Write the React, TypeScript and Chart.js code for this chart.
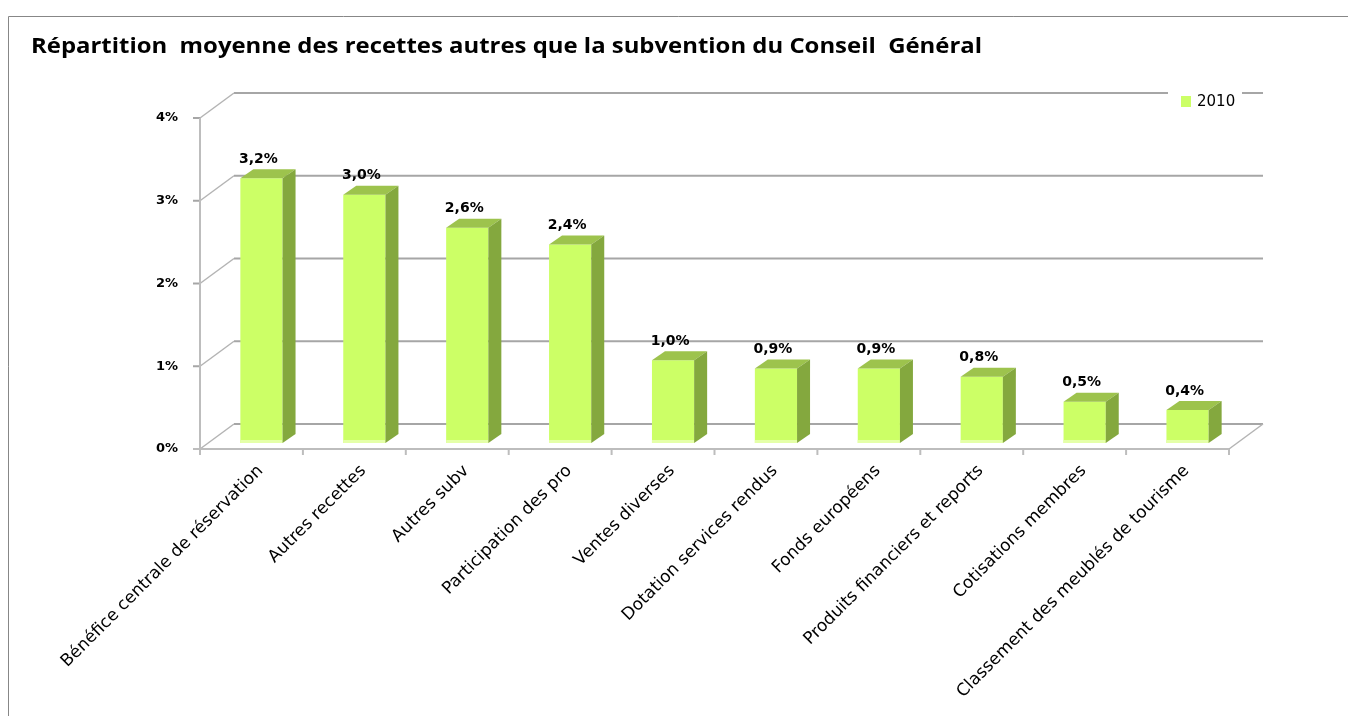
import { useEffect, useRef } from 'react';
import { Chart, registerables } from 'chart.js';

Chart.register(...registerables);

const chartTitle = 'Répartition  moyenne des recettes autres que la subvention du Conseil  Général';
const seriesLabel = '2010';
const categories = [
  'Bénéfice centrale de réservation',
  'Autres recettes',
  'Autres subv',
  'Participation des pro',
  'Ventes diverses',
  'Dotation services rendus',
  'Fonds européens',
  'Produits financiers et reports',
  'Cotisations membres',
  'Classement des meublés de tourisme',
];
const values2010 = [3.2, 3.0, 2.6, 2.4, 1.0, 0.9, 0.9, 0.8, 0.5, 0.4];
const yTickValues = [0, 1, 2, 3, 4];

const FRONT_FACE = '#CCFF66';
const TOP_FACE = '#9DC34D';
const SIDE_FACE = '#84A83E';

// perspective offsets relative to the bar plane
const FRONT = { dx: -10, dy: 6 };
const BACK = { dx: 24, dy: -19 };
const DEPTH = { dx: 13, dy: -9 };

const fmt = (v: number) => v.toFixed(1).replace('.', ',') + '%';

const threeD = {
  id: 'threeD',
  beforeDraw(chart: any) {
    const ctx = chart.ctx;
    ctx.save();
    ctx.fillStyle = '#ffffff';
    ctx.fillRect(0, 0, chart.width, chart.height);
    ctx.strokeStyle = '#878787';
    ctx.lineWidth = 1;
    ctx.beginPath();
    ctx.moveTo(8.5, chart.height);
    ctx.lineTo(8.5, 16.5);
    ctx.lineTo(chart.width, 16.5);
    ctx.stroke();
    ctx.fillStyle = '#000000';
    ctx.font = 'bold 21px "Open Sans"';
    ctx.textBaseline = 'alphabetic';
    ctx.textAlign = 'left';
    const w = ctx.measureText(chartTitle).width;
    ctx.translate(31, 53);
    ctx.scale(951 / w, 1);
    ctx.fillText(chartTitle, 0, 0);
    ctx.restore();
  },
  beforeDatasetsDraw(chart: any) {
    const { ctx, chartArea } = chart;
    const y = chart.scales.y;
    const L = chartArea.left;
    const R = chartArea.right;
    const y0 = y.getPixelForValue(0);
    const yMax = y.getPixelForValue(yTickValues[yTickValues.length - 1]);
    ctx.save();
    ctx.lineCap = 'butt';
    yTickValues.forEach((v) => {
      const p = y.getPixelForValue(v);
      ctx.strokeStyle = '#a6a6a6';
      ctx.lineWidth = 2;
      ctx.beginPath();
      ctx.moveTo(L + BACK.dx, p + BACK.dy);
      ctx.lineTo(R + BACK.dx, p + BACK.dy);
      ctx.stroke();
      ctx.strokeStyle = '#b4b4b4';
      ctx.lineWidth = 1.5;
      ctx.beginPath();
      ctx.moveTo(L + FRONT.dx, p + FRONT.dy);
      ctx.lineTo(L + BACK.dx, p + BACK.dy);
      ctx.stroke();
      ctx.strokeStyle = '#a6a6a6';
      ctx.lineWidth = 2;
      ctx.beginPath();
      ctx.moveTo(L + FRONT.dx - 7, p + FRONT.dy);
      ctx.lineTo(L + FRONT.dx, p + FRONT.dy);
      ctx.stroke();
    });
    ctx.strokeStyle = '#b4b4b4';
    ctx.lineWidth = 1.5;
    ctx.beginPath();
    ctx.moveTo(R + FRONT.dx, y0 + FRONT.dy);
    ctx.lineTo(R + BACK.dx, y0 + BACK.dy);
    ctx.stroke();
    ctx.strokeStyle = '#bdbdbd';
    ctx.lineWidth = 2;
    ctx.beginPath();
    ctx.moveTo(L + FRONT.dx, yMax + FRONT.dy);
    ctx.lineTo(L + FRONT.dx, y0 + FRONT.dy + 6);
    ctx.stroke();
    ctx.beginPath();
    ctx.moveTo(L + FRONT.dx - 7, y0 + FRONT.dy);
    ctx.lineTo(R + FRONT.dx, y0 + FRONT.dy);
    ctx.stroke();
    const n = categories.length;
    for (let i = 0; i <= n; i++) {
      const xb = L + ((R - L) * i) / n + FRONT.dx;
      ctx.beginPath();
      ctx.moveTo(xb, y0 + FRONT.dy);
      ctx.lineTo(xb, y0 + FRONT.dy + 6);
      ctx.stroke();
    }
    ctx.fillStyle = '#ffffff';
    ctx.fillRect(R - 71, chartArea.top - 28, 74, 30);
    ctx.fillStyle = FRONT_FACE;
    ctx.fillRect(R - 58, chartArea.top - 16, 10, 11);
    ctx.fillStyle = '#000000';
    ctx.font = '15px "DejaVu Sans"';
    ctx.textAlign = 'left';
    ctx.textBaseline = 'middle';
    ctx.fillText(seriesLabel, R - 42, chartArea.top - 10);
    ctx.restore();
  },
  afterDatasetsDraw(chart: any) {
    const { ctx } = chart;
    const meta = chart.getDatasetMeta(0);
    ctx.save();
    meta.data.forEach((bar: any, i: number) => {
      const { x, y, base, width } = bar.getProps(['x', 'y', 'base', 'width'], true);
      const l = x - width / 2;
      const r = x + width / 2;
      ctx.fillStyle = '#E4FFA8';
      ctx.fillRect(l, base - 3, width, 3);
      ctx.fillStyle = TOP_FACE;
      ctx.beginPath();
      ctx.moveTo(l, y);
      ctx.lineTo(l + DEPTH.dx, y + DEPTH.dy);
      ctx.lineTo(r + DEPTH.dx, y + DEPTH.dy);
      ctx.lineTo(r, y);
      ctx.closePath();
      ctx.fill();
      ctx.fillStyle = SIDE_FACE;
      ctx.beginPath();
      ctx.moveTo(r, y);
      ctx.lineTo(r + DEPTH.dx, y + DEPTH.dy);
      ctx.lineTo(r + DEPTH.dx, base + DEPTH.dy);
      ctx.lineTo(r, base);
      ctx.closePath();
      ctx.fill();
      ctx.fillStyle = '#000000';
      ctx.font = 'bold 14px "DejaVu Sans"';
      ctx.textAlign = 'center';
      ctx.textBaseline = 'middle';
      ctx.fillText(fmt(values2010[i]), x - 3, y - 19);
    });
    ctx.restore();
  },
};

export default function App() {
  const ref = useRef<HTMLCanvasElement | null>(null);
  useEffect(() => {
    if (!ref.current) return;
    const chart = new Chart(ref.current, {
      type: 'bar',
      data: {
        labels: categories,
        datasets: [
          {
            label: seriesLabel,
            data: values2010,
            backgroundColor: FRONT_FACE,
            borderWidth: 0,
            categoryPercentage: 1,
            barPercentage: 0.41,
          },
        ],
      },
      options: {
        animation: false,
        responsive: false,
        events: [],
        layout: { padding: { top: 112, right: 109, left: 0, bottom: 0 } },
        plugins: {
          legend: { display: false },
          title: { display: false },
          tooltip: { enabled: false },
        },
        scales: {
          x: {
            grid: { display: false, drawTicks: false, tickLength: 0 },
            border: { display: false },
            afterFit(scale: any) {
              scale.height = 273;
            },
            ticks: {
              autoSkip: false,
              maxRotation: 45,
              minRotation: 45,
              padding: 18,
              labelOffset: -1,
              color: '#000000',
              font: { family: '"DejaVu Sans"', size: 17 },
            },
          },
          y: {
            min: 0,
            max: 4,
            grid: { display: false, drawTicks: false, tickLength: 0 },
            border: { display: false },
            afterFit(scale: any) {
              scale.width = 210;
            },
            afterBuildTicks(scale: any) {
              scale.ticks = yTickValues.map((v) => ({ value: v }));
            },
            ticks: {
              padding: 32,
              labelOffset: 6,
              color: '#000000',
              font: { family: '"DejaVu Sans"', size: 13, weight: 'bold' },
              callback: (v: any) => v + '%',
            },
          },
        },
      },
      plugins: [threeD],
    });
    return () => chart.destroy();
  }, []);
  return (
    <div style={{ position: 'absolute', left: 0, top: 0, width: 1348, height: 716, overflow: 'hidden' }}>
      <canvas ref={ref} width={1348} height={716} style={{ display: 'block' }} />
    </div>
  );
}
